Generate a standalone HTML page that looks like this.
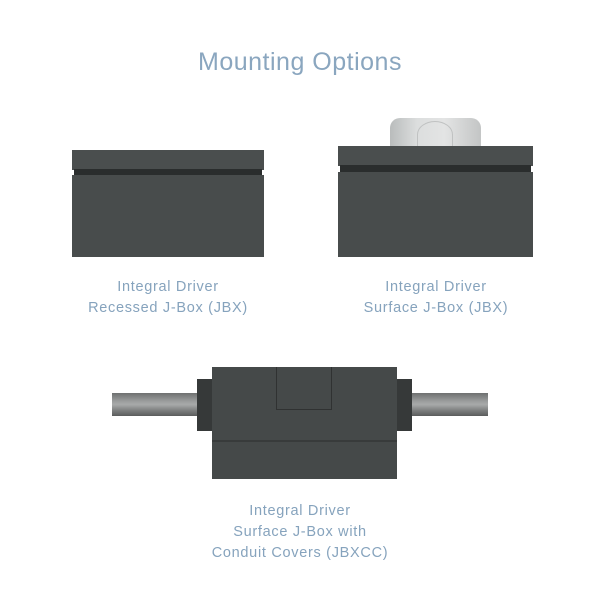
<!DOCTYPE html>
<html><head><style>
body{margin:0;width:600px;height:600px;background:#fff;position:relative;overflow:hidden;font-family:"Liberation Sans",sans-serif}
.a{position:absolute}
.t{position:absolute;color:#86a3bd;text-align:center;font-size:14.5px;line-height:21px;letter-spacing:0.7px}
.box{background:#484c4c}
</style></head><body>
<div class="t" style="left:0;width:600px;top:46px;font-size:25px;line-height:32px;color:#8aa6bf;letter-spacing:0.5px">Mounting Options</div>

<!-- left -->
<div class="a box" style="left:72px;top:150px;width:192px;height:20px;background:#4a4e4e"></div>
<div class="a" style="left:74px;top:169px;width:188px;height:6px;background:#2a2d2d"></div>
<div class="a box" style="left:72px;top:175px;width:192px;height:82px"></div>

<!-- right -->
<div class="a" style="left:390px;top:118px;width:91px;height:30px;border-radius:10px 10px 0 0;background:linear-gradient(90deg,#b9bcbc,#dcdede 30%,#e3e4e4 60%,#c3c5c5)"></div>
<div class="a" style="left:417px;top:121px;width:36px;height:27px;border:1px solid #c0c2c2;border-radius:50% 50% 0 0;box-sizing:border-box"></div>
<div class="a box" style="left:338px;top:146px;width:195px;height:20px;background:#4a4e4e"></div>
<div class="a" style="left:340px;top:165px;width:191px;height:7px;background:#2a2d2d"></div>
<div class="a box" style="left:338px;top:172px;width:195px;height:85px"></div>

<div class="t" style="left:50px;width:236px;top:277px">Integral Driver<br>Recessed J-Box (JBX)</div>
<div class="t" style="left:318px;width:236px;top:277px">Integral Driver<br>Surface J-Box (JBX)</div>

<!-- bottom -->
<div class="a" style="left:112px;top:393px;width:90px;height:23px;background:linear-gradient(180deg,#6e7070,#9a9c9c 35%,#a8aaaa 50%,#7e8080 75%,#5a5c5c)"></div>
<div class="a" style="left:408px;top:393px;width:80px;height:23px;background:linear-gradient(180deg,#6e7070,#9a9c9c 35%,#a8aaaa 50%,#7e8080 75%,#5a5c5c)"></div>
<div class="a" style="left:197px;top:379px;width:16px;height:52px;background:#363939"></div>
<div class="a" style="left:397px;top:379px;width:15px;height:52px;background:#363939"></div>
<div class="a box" style="left:212px;top:367px;width:185px;height:112px;background:#454949"></div>
<div class="a" style="left:212px;top:440px;width:185px;height:2px;background:#383b3b"></div>
<div class="a" style="left:276px;top:367px;width:56px;height:43px;border:1px solid #303232;border-top:none;box-sizing:border-box"></div>

<div class="t" style="left:150px;width:300px;top:501px">Integral Driver<br>Surface J-Box with<br>Conduit Covers (JBXCC)</div>
</body></html>
